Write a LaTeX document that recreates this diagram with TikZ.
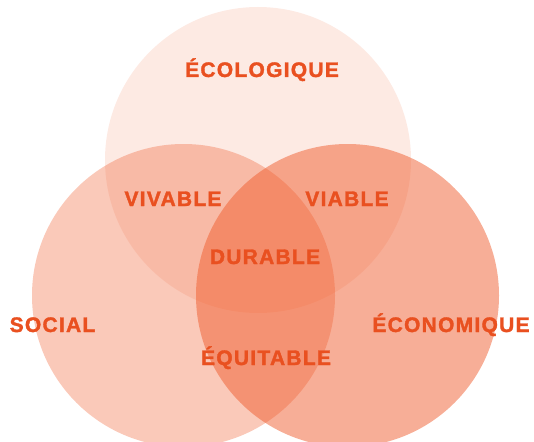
\documentclass[tikz,border=0pt]{standalone}
\usepackage{fontspec}
\newfontfamily\pillarfont{Liberation Sans}[LetterSpace=6, BoldFeatures={FakeBold=1.6}]

\definecolor{durorange}{RGB}{239,90,42}
\definecolor{durtext}{RGB}{233,80,32}

\tikzset{
  pillar/.style={circle, fill=durorange, minimum size=303pt, inner sep=0pt},
  pillarlabel/.style={text=durtext, anchor=base, inner sep=0pt,
    font=\fontsize{21}{25}\selectfont\pillarfont\bfseries},
}

\begin{document}
\begin{tikzpicture}[x=1pt,y=-1pt]
    \clip (0,0) rectangle (534,441);

    % the three pillars
    \node[pillar, fill opacity=0.13, minimum size=306pt] (ecologique) at (258,160) {};
    \node[pillar, fill opacity=0.33] (social) at (183.5,295.5) {};
    \node[pillar, fill opacity=0.49] (economique) at (347.5,295.5) {};

    % names of the circles
    \node[pillarlabel] (lblEco) at (262,77) {ÉCOLOGIQUE};
    \node[pillarlabel] (lblSoc) at (52.5,332) {SOCIAL};
    \node[pillarlabel] (lblEcon) at (451,332) {ÉCONOMIQUE};

    % names of the overlaps
    \node[pillarlabel] (lblVivable) at (173,206) {VIVABLE};
    \node[pillarlabel] (lblViable) at (347,206) {VIABLE};
    \node[pillarlabel] (lblDurable) at (265,264) {DURABLE};
    \node[pillarlabel] (lblEquitable) at (266,365) {ÉQUITABLE};
\end{tikzpicture}
\end{document}
